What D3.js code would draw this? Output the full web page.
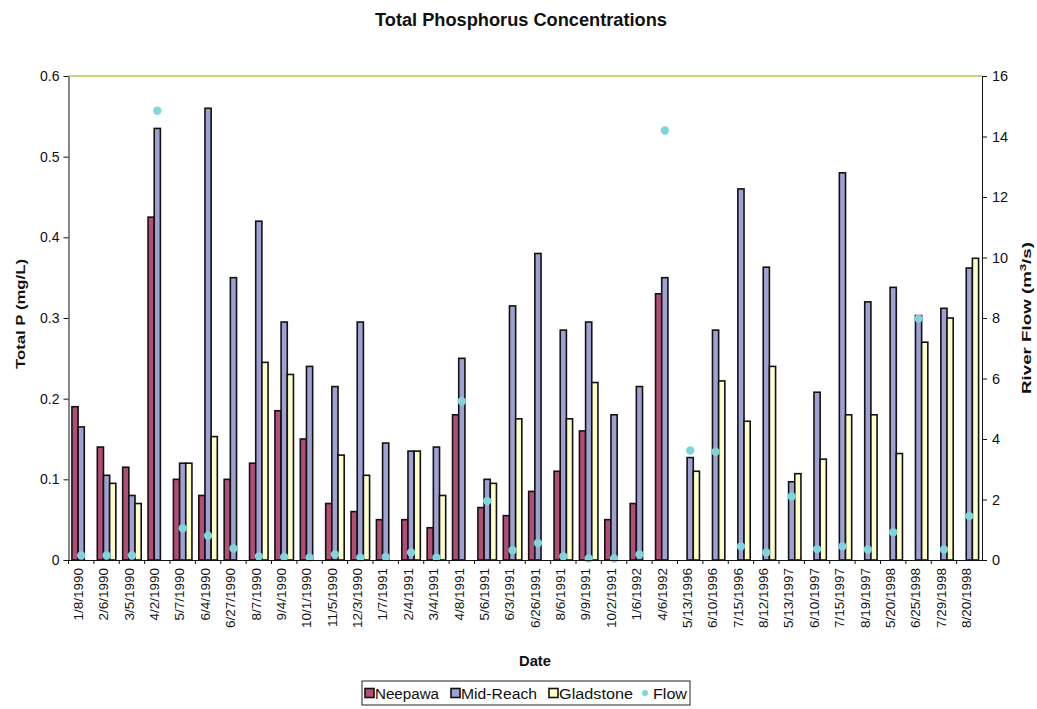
<!DOCTYPE html>
<html>
<head>
<meta charset="utf-8">
<script src="https://cdn.jsdelivr.net/npm/d3@7"></script>
<style>
  body { margin: 0; background: #fff; }
  text { font-family: Arial, "Liberation Sans", sans-serif; fill: #111; }
</style>
</head>
<body>
<svg id="chart" width="1037" height="709"></svg>
<script>
// Sampling dates (category axis)
const dates = ["1/8/1990","2/6/1990","3/5/1990","4/2/1990","5/7/1990","6/4/1990","6/27/1990",
  "8/7/1990","9/4/1990","10/1/1990","11/5/1990","12/3/1990","1/7/1991","2/4/1991","3/4/1991",
  "4/8/1991","5/6/1991","6/3/1991","6/26/1991","8/6/1991","9/9/1991","10/2/1991","1/6/1992",
  "4/6/1992","5/13/1996","6/10/1996","7/15/1996","8/12/1996","5/13/1997","6/10/1997",
  "7/15/1997","8/19/1997","5/20/1998","6/25/1998","7/29/1998","8/20/1998"];

// Total P (mg/L) at each station; null = not sampled
const neepawa = [0.19,0.14,0.115,0.425,0.10,0.08,0.10,0.12,0.185,0.15,0.07,0.06,0.05,0.05,0.04,
  0.18,0.065,0.055,0.085,0.11,0.16,0.05,0.07,0.33,null,null,null,null,null,null,null,null,null,null,null,null];
const midReach = [0.165,0.105,0.08,0.535,0.12,0.56,0.35,0.42,0.295,0.24,0.215,0.295,0.145,0.135,0.14,
  0.25,0.10,0.315,0.38,0.285,0.295,0.18,0.215,0.35,0.127,0.285,0.46,0.363,0.097,0.208,
  0.48,0.32,0.338,0.303,0.312,0.362];
const gladstone = [null,0.095,0.07,null,0.12,0.153,null,0.245,0.23,null,0.13,0.105,null,0.135,0.08,
  null,0.095,0.175,null,0.175,0.22,null,null,null,0.11,0.222,0.172,0.24,0.107,0.125,
  0.18,0.18,0.132,0.27,0.30,0.374];

// River flow (m3/s)
const flow = [0.15,0.15,0.15,14.85,1.05,0.8,0.38,0.12,0.1,0.08,0.18,0.08,0.1,0.25,0.08,
  5.25,1.95,0.32,0.56,0.12,0.05,0.05,0.18,14.2,3.62,3.58,0.45,0.25,2.1,0.36,
  0.45,0.35,0.92,7.98,0.35,1.45];

const pTicks = [0,0.1,0.2,0.3,0.4,0.5,0.6];
const flowTicks = [0,2,4,6,8,10,12,14,16];

const seriesNames = ["Neepawa","Mid-Reach","Gladstone"];
const seriesValues = [neepawa, midReach, gladstone];
const seriesColors = ["#b24e76","#9ea2d2","#ffffcc"];
const flowColor = "#7fd4de";

const svg = d3.select("#chart");
const L = 68.5, R = 982, T = 76, B = 560;

const x = d3.scaleBand().domain(dates).range([L, R]).paddingInner(0.27).paddingOuter(0.135);
const xs = d3.scaleBand().domain(seriesNames).range([0, x.bandwidth()]);
const y = d3.scaleLinear().domain([0, 0.6]).range([B, T]);
const y2 = d3.scaleLinear().domain([0, 16]).range([B, T]);

// Title
svg.append("text").attr("x", 521).attr("y", 26).attr("text-anchor", "middle")
  .style("font-size", "18px").style("font-weight", "bold")
  .attr("textLength", 292).attr("lengthAdjust", "spacingAndGlyphs")
  .text("Total Phosphorus Concentrations");

// Top border line of the plot area
svg.append("line").attr("x1", L).attr("x2", R).attr("y1", y(0.6)).attr("y2", y(0.6))
  .attr("stroke", "#cfd27a").attr("stroke-width", 2);

// Bars
seriesNames.forEach((name, s) => {
  const rows = dates.map((d, i) => ({ date: d, v: seriesValues[s][i] })).filter(r => r.v != null);
  svg.append("g").selectAll("rect").data(rows).join("rect")
    .attr("x", r => x(r.date) + xs(name))
    .attr("y", r => y(r.v))
    .attr("width", xs.bandwidth())
    .attr("height", r => y(0) - y(r.v))
    .attr("fill", seriesColors[s])
    .attr("stroke", "#121212")
    .attr("stroke-width", 1.6);
});

// Flow markers
svg.append("g").selectAll("circle").data(dates.map((d, i) => ({ date: d, v: flow[i] })))
  .join("circle")
  .attr("cx", r => x(r.date) + x.bandwidth() / 2)
  .attr("cy", r => y2(r.v))
  .attr("r", 4.2)
  .attr("fill", flowColor);

// Left axis
const fmtP = d => d === 0 ? "0" : d.toFixed(1);
const gL = svg.append("g").attr("transform", `translate(${L},0)`)
  .call(d3.axisLeft(y).tickValues(pTicks).tickFormat(fmtP).tickSize(5).tickSizeOuter(0));
gL.selectAll("text").style("font-size", "14px").attr("x", -9);
gL.selectAll("line, path").attr("stroke", "#111");

// Right axis
const gR = svg.append("g").attr("transform", `translate(${R},0)`)
  .call(d3.axisRight(y2).tickValues(flowTicks).tickSize(5).tickSizeOuter(0));
gR.selectAll("text").style("font-size", "14.5px").attr("x", 10);
gR.selectAll("line, path").attr("stroke", "#111");

// Bottom axis with rotated date labels
const gB = svg.append("g").attr("transform", `translate(0,${B})`)
  .call(d3.axisBottom(x).tickSize(0).tickSizeOuter(0));
gB.select("path").attr("stroke", "#111");
gB.selectAll("text")
  .style("font-size", "13.5px")
  .attr("transform", "rotate(-90)")
  .attr("x", -8).attr("y", -3).attr("dy", "0.35em")
  .style("text-anchor", "end");

// Tick marks between categories
const step = x.step();
svg.append("g").selectAll("line").data(dates).join("line")
  .attr("x1", d => x(d) - (step - x.bandwidth()) / 2)
  .attr("x2", d => x(d) - (step - x.bandwidth()) / 2)
  .attr("y1", B).attr("y2", B + 4)
  .attr("stroke", "#111");

// Axis titles
svg.append("text").attr("transform", "translate(25,314) rotate(-90)")
  .attr("text-anchor", "middle").style("font-size", "13px").style("font-weight", "bold")
  .attr("textLength", 110).attr("lengthAdjust", "spacingAndGlyphs")
  .text("Total P (mg/L)");

const rt = svg.append("text").attr("transform", "translate(1031,318) rotate(-90)")
  .attr("text-anchor", "middle").style("font-size", "13px").style("font-weight", "bold")
  .attr("textLength", 152).attr("lengthAdjust", "spacingAndGlyphs");
rt.append("tspan").text("River Flow (m");
rt.append("tspan").attr("dy", -5).style("font-size", "9px").text("3");
rt.append("tspan").attr("dy", 5).text("/s)");

svg.append("text").attr("x", 535).attr("y", 666).attr("text-anchor", "middle")
  .style("font-size", "14px").style("font-weight", "bold")
  .attr("textLength", 32).attr("lengthAdjust", "spacingAndGlyphs")
  .text("Date");

// Legend
const lg = svg.append("g");
lg.append("rect").attr("x", 362).attr("y", 681).attr("width", 328).attr("height", 24)
  .attr("fill", "#fff").attr("stroke", "#222").attr("stroke-width", 1);
const legendItems = [
  { name: "Neepawa", sx: 365, tx: 375, tw: 64 },
  { name: "Mid-Reach", sx: 451, tx: 461, tw: 76 },
  { name: "Gladstone", sx: 549, tx: 559, tw: 74 },
  { name: "Flow", sx: 641, tx: 653, tw: 34 }
];
legendItems.forEach((it, i) => {
  if (i < 3) {
    lg.append("rect").attr("x", it.sx).attr("y", 688.5).attr("width", 9).attr("height", 9)
      .attr("fill", seriesColors[i]).attr("stroke", "#121212").attr("stroke-width", 1.6);
  } else {
    lg.append("circle").attr("cx", it.sx + 4).attr("cy", 693).attr("r", 3).attr("fill", flowColor);
  }
  lg.append("text").attr("x", it.tx).attr("y", 699).style("font-size", "14px")
    .attr("textLength", it.tw).attr("lengthAdjust", "spacingAndGlyphs")
    .text(it.name);
});
</script>
</body>
</html>
